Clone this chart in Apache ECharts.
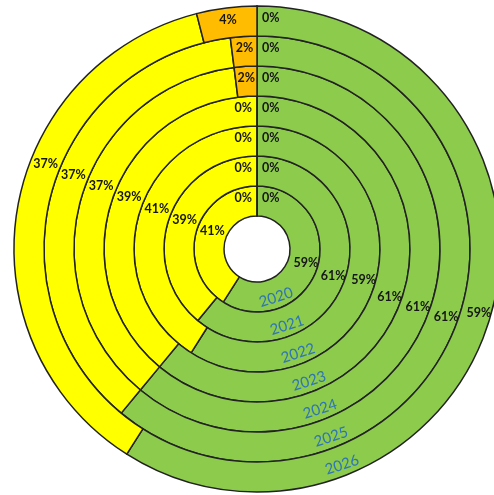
<!DOCTYPE html>
<html>
<head>
<meta charset="utf-8">
<script src="https://cdn.jsdelivr.net/npm/echarts@6/dist/echarts.min.js"></script>
<style>
  html, body { margin: 0; padding: 0; background: #ffffff; }
  #chart { width: 494px; height: 495px; }
</style>
</head>
<body>
<div id="chart"></div>
<script>
// One ring per year, innermost first
const years = ['2020', '2021', '2022', '2023', '2024', '2025', '2026'];
const segmentNames = ['None', 'Green', 'Yellow', 'Amber'];

// Share of each segment per year (percent)
const noneShare   = [0, 0, 0, 0, 0, 0, 0];
const greenShare  = [59, 61, 59, 61, 61, 61, 59];
const yellowShare = [41, 39, 41, 39, 37, 37, 37];
const amberShare  = [0, 0, 0, 0, 2, 2, 4];

const segmentColors = ['#C00000', '#8DCB4C', '#FFFF00', '#FFBC00'];

// Geometry of the nested rings
const CX = 257, CY = 249;
const HOLE = 33, RING = 30;
const YELLOW_LABEL_ANGLE = 292;   // degrees clockwise from 12 o'clock
const YEAR_ANGLE = 158.5;
const YEAR_TILT = 18;

const chart = echarts.init(document.getElementById('chart'), null, { renderer: 'canvas' });

function polar(r, deg) {
  const a = deg * Math.PI / 180;
  return [CX + r * Math.sin(a), CY - r * Math.cos(a)];
}

const series = years.map(function (year, i) {
  const shares = [noneShare[i], greenShare[i], yellowShare[i], amberShare[i]];
  const midR = HOLE + RING * (i + 0.5);
  return {
    type: 'pie',
    name: year,
    center: [CX, CY],
    radius: [HOLE + RING * i, HOLE + RING * (i + 1)],
    startAngle: 90,
    clockwise: true,
    silent: true,
    animation: false,
    avoidLabelOverlap: false,
    itemStyle: { borderColor: '#222222', borderWidth: 1.5 },
    label: {
      show: true,
      position: 'inside',
      formatter: '{c}%',
      fontFamily: 'Lato',
      fontWeight: 'bold',
      fontSize: 12.5,
      color: '#161616'
    },
    labelLine: { show: false },
    emphasis: { disabled: true },
    labelLayout: function (p) {
      if (p.dataIndex === 0) {
        return { align: 'left', dx: 5 };
      }
      if (p.dataIndex === 3 && amberShare[i] === 0) {
        return { align: 'right', dx: -5 };
      }
      if (p.dataIndex === 2) {
        const pt = polar(midR, YELLOW_LABEL_ANGLE);
        return { x: pt[0], y: pt[1], align: 'center', verticalAlign: 'middle' };
      }
      return {};
    },
    data: shares.map(function (v, k) {
      return { name: segmentNames[k], value: v, itemStyle: { color: segmentColors[k] } };
    })
  };
});

// Year captions laid along each ring, lower right
const yearText = years.map(function (year, i) {
  const pt = polar(HOLE + RING * (i + 0.5) + 4, YEAR_ANGLE);
  return {
    type: 'text',
    x: pt[0],
    y: pt[1],
    rotation: YEAR_TILT * Math.PI / 180,
    silent: true,
    z: 100,
    style: {
      text: year,
      fill: '#2E75B6',
      font: '15px Lato',
      align: 'center',
      verticalAlign: 'middle'
    }
  };
});

chart.setOption({
  backgroundColor: '#ffffff',
  animation: false,
  series: series,
  graphic: yearText
});
</script>
</body>
</html>
